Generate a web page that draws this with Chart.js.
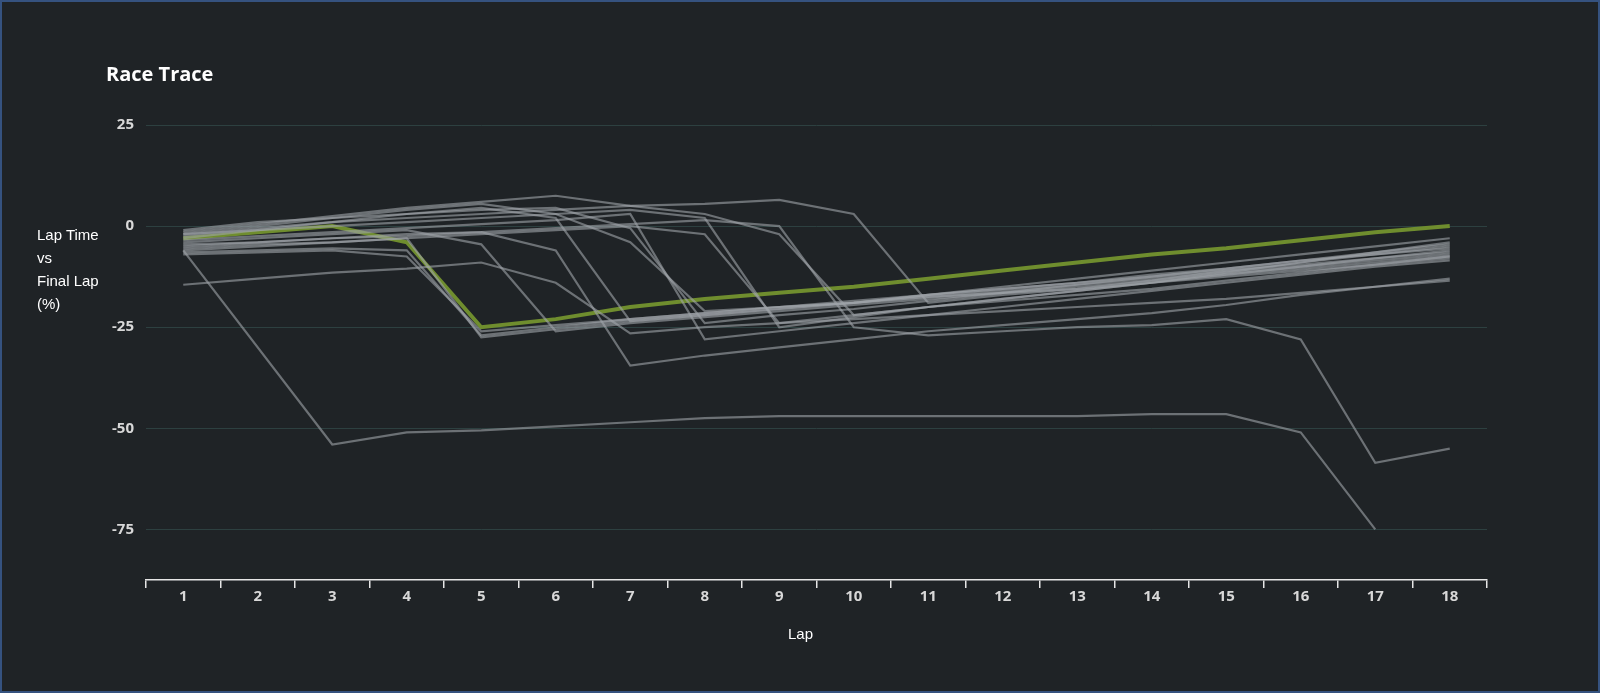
<!DOCTYPE html>
<html>
<head>
<meta charset="utf-8">
<script src="https://cdn.jsdelivr.net/npm/chart.js@4.4.1/dist/chart.umd.min.js"></script>
<style>
    html, body { margin: 0; padding: 0; background: #1f2326; }
    #wrap { position: relative; width: 1600px; height: 693px; box-sizing: border-box; border: 2px solid #35527f; background: #1f2326; }
    canvas { position: absolute; left: 0; top: 0; }
    .txt { position: absolute; color: #ffffff; }
    #title { left: 104px; top: 58px; font: bold 20px "Open Sans", sans-serif; }
    #ylab { left: 35px; top: 221px; font: 15px "Liberation Sans", sans-serif; line-height: 23px; }
    #xlab { left: 786px; top: 623px; font: 15px "Liberation Sans", sans-serif; }
</style>
</head>
<body>
<div id="wrap">
    <canvas id="chart" width="1596" height="689"></canvas>
    <div class="txt" id="title">Race Trace</div>
    <div class="txt" id="ylab">Lap Time<br>vs<br>Final Lap<br>(%)</div>
    <div class="txt" id="xlab">Lap</div>
</div>
<script>
// lap numbers on the x axis
const laps = ['1', '2', '3', '4', '5', '6', '7', '8', '9', '10', '11', '12', '13', '14', '15', '16', '17', '18'];

// y axis ticks
const yTicks = [-75, -50, -25, 0, 25];

// highlighted driver
const highlight = [-3, -1.5, 0, -4, -25, -23, -20, -18, -16.5, -15, -13, -11, -9, -7, -5.5, -3.5, -1.5, 0];

// the rest of the field
const driverA = [-6, null, -54, -51, -50.5, -49.5, -48.5, -47.5, -47, -47, -47, -47, -47, -46.5, -46.5, -51, -75, null];
const driverB = [-5, -4, -3, -2, -1.5, -0.5, 0.5, 1.5, 0, -25, -27, -26, -25, -24.5, -23, -28, -58.5, -55];
const driverC = [-14.5, -13, -11.5, -10.5, -9, -14, -26.5, -25, -24, -23, -22, -21, -20, -19, -18, -16.5, -15, -13.5];
const driverD = [-2, 0, 2, 4, 5.5, 3, -4, -21, -20, -19, -17, -15, -13, -11, -9, -7, -5, -3];
const driverE = [-1.5, 0.5, 2.5, 4.5, 6, 7.5, 5, 3, -2, -22, -20, -18, -16, -14, -11.5, -9, -6.5, -4];
const driverF = [-3, -1, 1, 2, 3, 4, 5, 5.5, 6.5, 3, -19, -17, -15.5, -13.5, -11, -9, -7, -5];
const driverG = [-6, -5, -4, -3, -27.5, -25.5, -23.5, -22, -20.5, -19, -17.5, -16, -14.5, -13, -11.5, -10, -8.5, -7];
const driverH = [-6.5, -6, -5.5, -6, -27, -25, -23, -21.5, -20, -19, -17.5, -16.5, -15.5, -14, -12.5, -11, -9.5, -8];
const driverI = [-4, -3, -2, -1, -4.5, -26, -24, -22.5, -21, -19.5, -18, -16.5, -15, -13.5, -12, -10.5, -9, -7.5];
const driverJ = [-2.5, -0.5, 1, 3, 4.5, 2, -23.5, -22, -20.5, -19, -17, -15.5, -14, -12, -10.5, -8.5, -7, -5.5];
const driverK = [-4.5, -4, -3, -2.5, -1.5, -6, -34.5, -32, -30, -28, -26, -24.5, -23, -21.5, -19.5, -17, -15, -13];
const driverL = [-3.5, -2.5, -1.5, -0.5, 0.5, 1.5, 3, -28, -26, -24, -22, -20, -18, -16, -14, -12, -10, -8.5];
const driverM = [-2, -1, 0, 1, 2, 3, 4, 2, -25, -22.5, -20, -18, -16, -14, -12, -10, -8, -6];
const driverN = [-5.5, -4.5, -4, -3, -2, -1, 0, -2, -24, -22, -20, -18.5, -17, -15.5, -13.5, -11.5, -9.5, -7.5];
const driverO = [-1, 1, 2, 3, 4, 4.5, -0.5, -24, -22, -20.5, -18.5, -16.5, -14.5, -12.5, -10.5, -8.5, -6.5, -4.5];
const driverP = [-7, -6.5, -6, -7.5, -26, -24.5, -23, -21.5, -20, -18.5, -17, -15.5, -14, -12.5, -11, -9.5, -8, -6.5];

const field = [driverA, driverB, driverC, driverD, driverE, driverF, driverG, driverH,
    driverI, driverJ, driverK, driverL, driverM, driverN, driverO, driverP];

const greyLine = (data) => ({
    data: data,
    borderColor: 'rgba(160, 165, 170, 0.6)',
    borderWidth: 2.2,
    pointRadius: 0,
    spanGaps: true,
    tension: 0
});

const datasets = field.map(greyLine);
datasets.push({
    data: highlight,
    borderColor: '#6f8d2e',
    borderWidth: 4,
    pointRadius: 0,
    tension: 0
});

const tickFont = { family: 'Open Sans', size: 15, weight: '700' };

new Chart(document.getElementById('chart'), {
    type: 'line',
    data: { labels: laps, datasets: datasets },
    options: {
        responsive: false,
        animation: false,
        layout: { padding: { left: 0, right: 111, top: 123, bottom: 0 } },
        plugins: { legend: { display: false }, tooltip: { enabled: false } },
        scales: {
            x: {
                offset: true,
                grid: { display: true, drawOnChartArea: false, offset: true, color: '#e6e6e6', tickLength: 8, lineWidth: 1.5 },
                border: { display: true, color: '#e6e6e6', width: 1.5 },
                ticks: { color: '#d8d8d8', font: tickFont, padding: 0, maxRotation: 0 },
                afterFit: (scale) => { scale.height = 689 - 578; }
            },
            y: {
                min: -87.5,
                max: 25,
                afterBuildTicks: (scale) => { scale.ticks = yTicks.map((v) => ({ value: v })); },
                grid: { color: '#2d4040', lineWidth: 1, drawTicks: false },
                border: { display: false },
                ticks: { color: '#d8d8d8', font: tickFont, padding: 12 },
                afterFit: (scale) => { scale.width = 144; }
            }
        }
    }
});
</script>
</body>
</html>
